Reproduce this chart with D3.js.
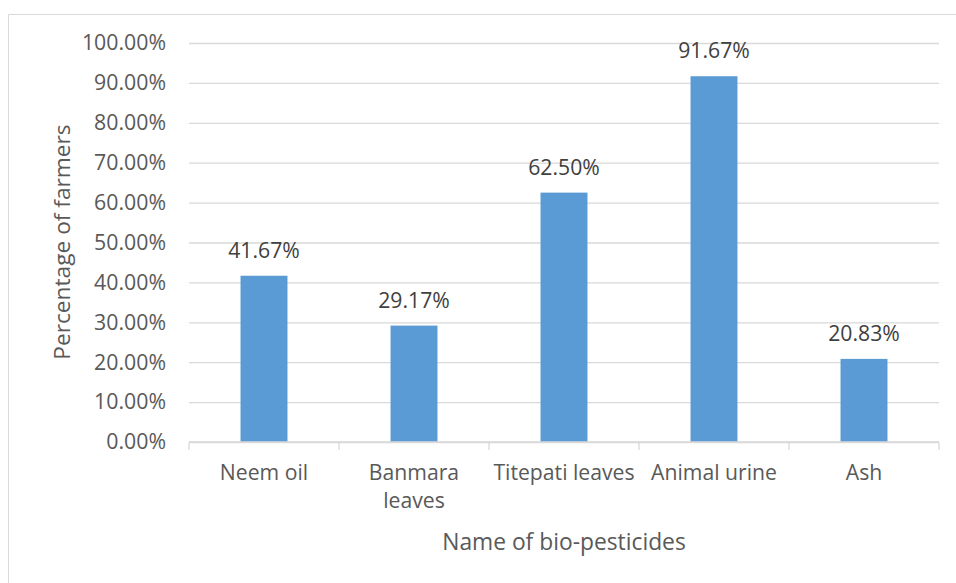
<!DOCTYPE html>
<html>
<head>
<meta charset="utf-8">
<script src="https://cdn.jsdelivr.net/npm/d3@7"></script>
<style>
  html, body { margin: 0; padding: 0; background: #ffffff; }
  svg { display: block; font-family: "Open Sans", "Noto Sans", sans-serif; }
</style>
</head>
<body>
<svg id="chart" width="956" height="583"></svg>
<script>
// Share of farmers using each bio-pesticide
const categories = ["Neem oil", "Banmara leaves", "Titepati leaves", "Animal urine", "Ash"];
const categoryLines = [["Neem oil"], ["Banmara", "leaves"], ["Titepati leaves"], ["Animal urine"], ["Ash"]];
const percentages = [0.4167, 0.2917, 0.6250, 0.9167, 0.2083];
const yTicks = [0, 0.1, 0.2, 0.3, 0.4, 0.5, 0.6, 0.7, 0.8, 0.9, 1.0];
const yTitle = "Percentage of farmers";
const xTitle = "Name of bio-pesticides";

const svg = d3.select("#chart");
const plot = { left: 189, right: 939, top: 43, bottom: 442 };

// chart frame
svg.append("path")
  .attr("d", "M8.5,583 V14.5 H956")
  .attr("fill", "none")
  .attr("stroke", "#d9d9d9")
  .attr("stroke-width", 1);

const x = d3.scaleBand().domain(categories).range([plot.left, plot.right]);
const y = d3.scaleLinear().domain([0, 1]).range([plot.bottom, plot.top]);
const barW = x.bandwidth() * 0.313;
const fmt = d3.format(".2%");

// horizontal gridlines + tick labels
const yAxis = d3.axisLeft(y).tickValues(yTicks).tickFormat(fmt)
  .tickSize(-(plot.right - plot.left)).tickPadding(23);
const gy = svg.append("g").attr("transform", `translate(${plot.left},0)`).call(yAxis);
gy.select(".domain").remove();
gy.selectAll(".tick line").attr("stroke", "#d9d9d9").attr("stroke-width", 1.3);
gy.selectAll(".tick text")
  .attr("fill", "#595959")
  .style("font-size", "21.3px")
  .style("font-family", "'Open Sans', sans-serif");

// bars
svg.append("g").selectAll("rect")
  .data(categories)
  .join("rect")
  .attr("x", (d) => x(d) + (x.bandwidth() - barW) / 2)
  .attr("width", barW)
  .attr("y", (d, i) => y(percentages[i]))
  .attr("height", (d, i) => y(0) - y(percentages[i]))
  .attr("fill", "#5b9bd5");

// category axis with boundary ticks
const boundaries = categories.map((d) => x(d)).concat([plot.right]);
svg.append("line")
  .attr("x1", plot.left).attr("x2", plot.right)
  .attr("y1", plot.bottom).attr("y2", plot.bottom)
  .attr("stroke", "#d9d9d9").attr("stroke-width", 1.3);
svg.append("g").selectAll("line")
  .data(boundaries)
  .join("line")
  .attr("x1", (d) => d).attr("x2", (d) => d)
  .attr("y1", plot.bottom).attr("y2", plot.bottom + 8)
  .attr("stroke", "#d9d9d9").attr("stroke-width", 1.3);

// category labels
const cat = svg.append("g").selectAll("text")
  .data(categories)
  .join("text")
  .attr("x", (d) => x(d) + x.bandwidth() / 2)
  .attr("y", 480)
  .attr("text-anchor", "middle")
  .attr("fill", "#595959")
  .style("font-size", "21.2px");
cat.each(function (d, i) {
  d3.select(this).selectAll("tspan")
    .data(categoryLines[i])
    .join("tspan")
    .attr("x", x(d) + x.bandwidth() / 2)
    .attr("dy", (t, j) => (j === 0 ? 0 : 28))
    .text((t) => t);
});

// value labels
svg.append("g").selectAll("text")
  .data(categories)
  .join("text")
  .attr("x", (d) => x(d) + x.bandwidth() / 2)
  .attr("y", (d, i) => y(percentages[i]) - 18)
  .attr("text-anchor", "middle")
  .attr("fill", "#404040")
  .style("font-size", "21.2px")
  .text((d, i) => fmt(percentages[i]));

// axis titles
svg.append("text")
  .attr("transform", "translate(70,242) rotate(-90)")
  .attr("text-anchor", "middle")
  .attr("fill", "#595959")
  .style("font-size", "22.7px")
  .text(yTitle);

svg.append("text")
  .attr("x", 564)
  .attr("y", 550)
  .attr("text-anchor", "middle")
  .attr("fill", "#595959")
  .style("font-size", "22.8px")
  .text(xTitle);
</script>
</body>
</html>
